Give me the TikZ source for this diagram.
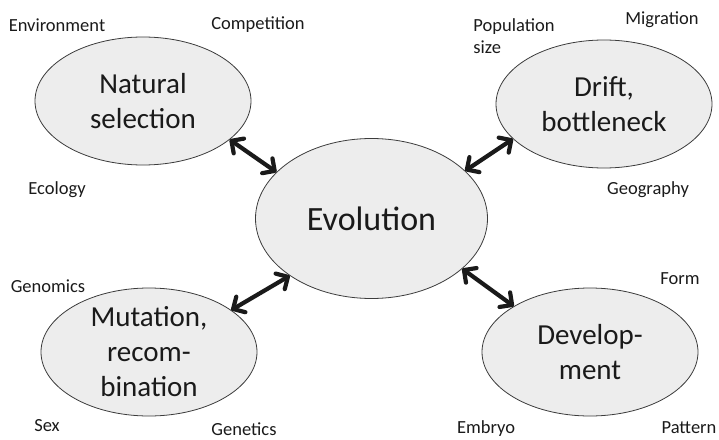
\documentclass[tikz,border=0pt]{standalone}
\usepackage{fontspec}
\setmainfont{Carlito}
\usetikzlibrary{arrows.meta,shapes.geometric}

\begin{document}
\begin{tikzpicture}[x=1pt,y=1pt]
\definecolor{ovalFillColour}{RGB}{237, 237, 237}
			\definecolor{ovalLineColour}{RGB}{60, 60, 60}
			\definecolor{inkColour}{RGB}{26, 26, 26}
			\tikzstyle{topic}=[ellipse, draw=ovalLineColour, fill=ovalFillColour, line width=0.8pt, minimum width=216pt, minimum height=128pt, inner sep=0pt]
			\tikzstyle{caption}=[align=center, color=inkColour, font=\fontsize{29}{35}\selectfont]
			\tikzstyle{keyword}=[align=left, inner sep=0pt, color=inkColour, font=\fontsize{18.5}{22}\selectfont]
			\tikzstyle{link}=[{Straight Barb[round,length=9pt,width=18pt]}-{Straight Barb[round,length=9pt,width=18pt]}, line width=4.2pt, color=inkColour]

			\useasboundingbox (-371.5,-220.5) rectangle (347.5,218.5);

			\node [topic, minimum width=232pt, minimum height=160pt, label={[caption, font=\fontsize{34}{40}\selectfont]center:Evolution}] (evo) {};
			\node [topic, xshift=-228.5pt, yshift=117.5pt, label={[caption]center:{Natural\\selection}}] (sel) {};
			\node [topic, xshift=232.5pt, yshift=114.5pt, label={[caption]center:{Drift,\\bottleneck}}] (drift) {};
			\node [topic, xshift=-222.5pt, yshift=-133.5pt, label={[caption]center:{Mutation,\\recom-\\bination}}] (mut) {};
			\node [topic, xshift=218.5pt, yshift=-133.5pt, label={[caption]center:{Develop-\\ment}}] (dev) {};

			\node [keyword, xshift=-314.5pt, yshift=193.5pt] (env) {Environment};
			\node [keyword, xshift=-113.5pt, yshift=193.5pt] (comp) {Competition};
			\node [keyword, xshift=-314.5pt, yshift=28.5pt] (eco) {Ecology};
			\node [keyword, xshift=142.5pt, yshift=182.5pt] (pop) {Population\\size};
			\node [keyword, xshift=290.5pt, yshift=198.5pt] (migr) {Migration};
			\node [keyword, xshift=276.5pt, yshift=28.5pt] (geo) {Geography};
			\node [keyword, xshift=-323.5pt, yshift=-67.5pt] (genom) {Genomics};
			\node [keyword, xshift=-324.5pt, yshift=-207.5pt] (sex) {Sex};
			\node [keyword, xshift=-127.5pt, yshift=-210.5pt] (genet) {Genetics};
			\node [keyword, xshift=308.5pt, yshift=-60.5pt] (form) {Form};
			\node [keyword, xshift=114.5pt, yshift=-210.5pt] (emb) {Embryo};
			\node [keyword, xshift=317.5pt, yshift=-209.5pt] (patt) {Pattern};

			\path[link]
			(sel.-24) edge (evo.154)
			(drift.201) edge (evo.27)
			(mut.27) edge (evo.215)
			(dev.149) edge (evo.-29);
		\end{tikzpicture}
\end{document}
